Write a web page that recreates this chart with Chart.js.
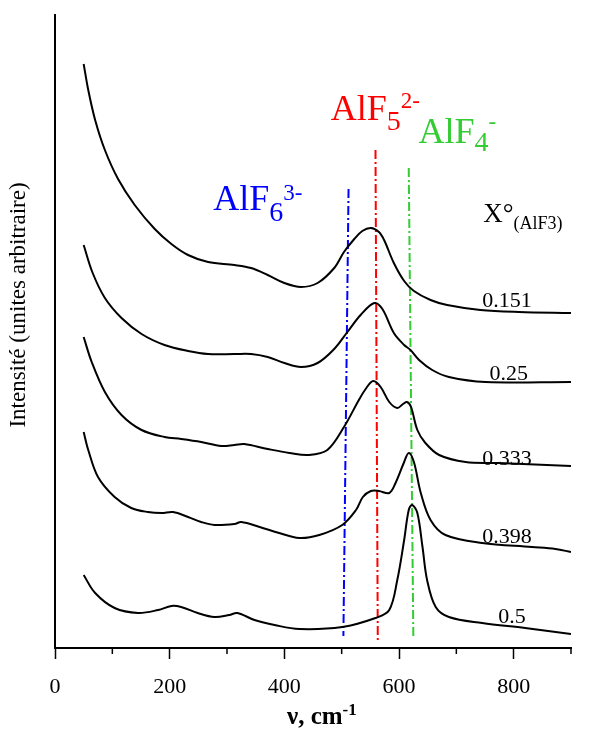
<!DOCTYPE html>
<html>
<head>
<meta charset="utf-8">
<script src="https://cdn.jsdelivr.net/npm/chart.js@4.4.0/dist/chart.umd.min.js"></script>
<style>
  body { margin: 0; background: #fff; }
</style>
</head>
<body>
<canvas id="ramanChart" width="592" height="729"></canvas>
<script>
// wavenumber (cm-1) / intensity (arbitrary, offset per composition)
const wn151 = [50, 58, 70, 87, 110, 139, 174, 203, 232, 267, 313, 342, 371, 400, 429, 458, 487, 504, 522, 536, 551, 565, 574, 591, 609, 626, 655, 684, 742, 809, 900];
const int151 = [584, 558, 528, 498, 469, 443, 419, 404, 393, 386, 383, 380, 373, 365, 361, 365, 380, 396, 409, 417, 420, 416, 408, 385, 367, 357, 348, 343, 338, 336, 335];

const wn25 = [50, 65, 87, 116, 151, 191, 232, 267, 313, 342, 371, 400, 429, 458, 487, 510, 533, 557, 571, 591, 609, 620, 635, 658, 687, 751, 900];
const int25 = [403, 376, 350, 330, 314, 303, 297, 294, 294, 294, 291, 285, 281, 285, 299, 316, 333, 345, 339, 315, 303, 298, 288, 278, 271, 266, 266];

const wn333 = [50, 64, 87, 116, 151, 191, 220, 255, 290, 313, 330, 371, 409, 443, 475, 504, 530, 543, 555, 568, 583, 597, 607, 614, 621, 632, 646, 670, 716, 774, 900];
const int333 = [311, 286, 256, 233, 218, 211, 209, 206, 202, 203, 204, 199, 195, 193, 198, 221, 248, 260, 267, 261, 246, 240, 244, 246, 241, 218, 205, 193, 186, 185, 182];

const wn398 = [50, 58, 75, 104, 133, 162, 186, 206, 232, 255, 278, 313, 325, 357, 391, 426, 461, 501, 525, 537, 551, 565, 583, 594, 609, 617, 626, 638, 655, 681, 745, 832, 873, 900];
const int398 = [216, 198, 171, 151, 140, 136, 135, 136, 131, 126, 123, 124, 126, 121, 115, 110, 113, 123, 138, 151, 157, 157, 155, 165, 186, 195, 186, 155, 128, 113, 105, 101, 99, 96];

const wn5 = [50, 70, 104, 145, 180, 203, 220, 249, 278, 304, 318, 348, 383, 426, 501, 559, 583, 597, 609, 617, 623, 632, 641, 649, 664, 687, 745, 820, 900];
const int5 = [73, 55, 40, 35, 38, 42, 41, 35, 31, 33, 35, 28, 23, 19, 21, 30, 38, 68, 108, 138, 143, 135, 101, 68, 41, 31, 25, 20, 14];

// band marker lines (top end, bottom end)
const alf6X = [512, 503];
const alf6Y = [459, 12];
const alf5X = [559, 563];
const alf5Y = [498, 8];
const alf4X = [617, 625];
const alf4Y = [480, 12];

const compositions = ['0.151', '0.25', '0.333', '0.398', '0.5'];
const xTicks = [0, 200, 400, 600, 800];

const toPoints = (xs, ys) => xs.map((x, i) => ({ x: x, y: ys[i] }));

const curve = (label, xs, ys) => ({
  label: label,
  data: toPoints(xs, ys),
  borderColor: '#000',
  borderWidth: 2,
  pointRadius: 0,
  fill: false,
  tension: 0.35
});

const band = (label, xs, ys, color) => ({
  label: label,
  data: toPoints(xs, ys),
  borderColor: color,
  borderWidth: 2,
  borderDash: [9, 3, 2, 3],
  pointRadius: 0,
  fill: false,
  tension: 0
});

const serif = 'Liberation Serif';

// text placed at data coords of the picture
const formulas = [
  { x: 276, y: 438, color: '#0000ff', parts: [['AlF', 36, 0], ['6', 28, 11], ['3-', 23, -10]] },
  { x: 481, y: 528, color: '#ff0000', parts: [['AlF', 36, 0], ['5', 28, 10], ['2-', 23, -12]] },
  { x: 634, y: 505, color: '#33cc33', parts: [['AlF', 36, 0], ['4', 28, 8], ['-', 23, -14]] },
  { x: 747, y: 426, color: '#000', parts: [['X°', 27, 0], ['(AlF3)', 18, 7]] }
];
const compLabelX = [745, 758, 745, 745, 773];
const compLabelY = [341, 268, 183, 105, 25];

function drawParts(ctx, px, py, color, parts, bold) {
  let cx = px;
  ctx.fillStyle = color;
  ctx.textAlign = 'left';
  ctx.textBaseline = 'alphabetic';
  parts.forEach(p => {
    ctx.font = (bold ? 'bold ' : '') + p[1] + 'px "' + serif + '"';
    ctx.fillText(p[0], cx, py + p[2]);
    cx += ctx.measureText(p[0]).width;
  });
}

const annotations = {
  id: 'annotations',
  afterDraw(chart) {
    const { ctx, chartArea } = chart;
    const xs = chart.scales.x, ys = chart.scales.y;
    ctx.save();

    // minor ticks
    ctx.strokeStyle = '#000';
    ctx.lineWidth = 1.5;
    [100, 300, 500, 700, 900].forEach(v => {
      const px = xs.getPixelForValue(v);
      ctx.beginPath();
      ctx.moveTo(px, chartArea.bottom);
      ctx.lineTo(px, chartArea.bottom + 6);
      ctx.stroke();
    });

    formulas.forEach(f => {
      drawParts(ctx, xs.getPixelForValue(f.x), ys.getPixelForValue(f.y), f.color, f.parts, false);
    });

    ctx.font = '22px "' + serif + '"';
    ctx.fillStyle = '#000';
    compositions.forEach((c, i) => {
      ctx.fillText(c, xs.getPixelForValue(compLabelX[i]), ys.getPixelForValue(compLabelY[i]));
    });

    // axis titles
    drawParts(ctx, chartArea.left + 232, chartArea.bottom + 76, '#000', [['ν, cm', 25, 0], ['-1', 17, -9]], true);

    ctx.translate(chartArea.left - 36, chartArea.top + 290);
    ctx.rotate(-Math.PI / 2);
    ctx.font = '23px "' + serif + '"';
    ctx.textAlign = 'center';
    ctx.textBaseline = 'middle';
    ctx.fillText('Intensité (unites arbitraire)', 0, 0);
    ctx.restore();
  }
};

new Chart(document.getElementById('ramanChart').getContext('2d'), {
  type: 'line',
  data: {
    datasets: [
      curve(compositions[0], wn151, int151),
      curve(compositions[1], wn25, int25),
      curve(compositions[2], wn333, int333),
      curve(compositions[3], wn398, int398),
      curve(compositions[4], wn5, int5),
      band('AlF6', alf6X, alf6Y, '#0000ff'),
      band('AlF5', alf5X, alf5Y, '#ff0000'),
      band('AlF4', alf4X, alf4Y, '#33cc33')
    ]
  },
  options: {
    responsive: false,
    devicePixelRatio: 1,
    animation: false,
    layout: { padding: { left: 0, top: 15, right: 21, bottom: 0 } },
    plugins: { legend: { display: false }, tooltip: { enabled: false } },
    scales: {
      x: {
        type: 'linear',
        min: 0,
        max: 900,
        afterFit: s => { s.height = 81; },
        afterBuildTicks: s => { s.ticks = xTicks.map(v => ({ value: v })); },
        ticks: {
          autoSkip: false,
          maxRotation: 0,
          padding: 15,
          color: '#000',
          font: { family: serif, size: 22 }
        },
        grid: {
          drawOnChartArea: false,
          drawTicks: true,
          tickLength: 11,
          tickWidth: 1.5,
          tickColor: '#000'
        },
        border: { display: true, color: '#000', width: 2 }
      },
      y: {
        type: 'linear',
        min: 0,
        max: 633,
        afterFit: s => { s.width = 55; },
        ticks: { display: false },
        grid: { display: false },
        border: { display: true, color: '#000', width: 2 }
      }
    }
  },
  plugins: [annotations]
});
</script>
</body>
</html>
